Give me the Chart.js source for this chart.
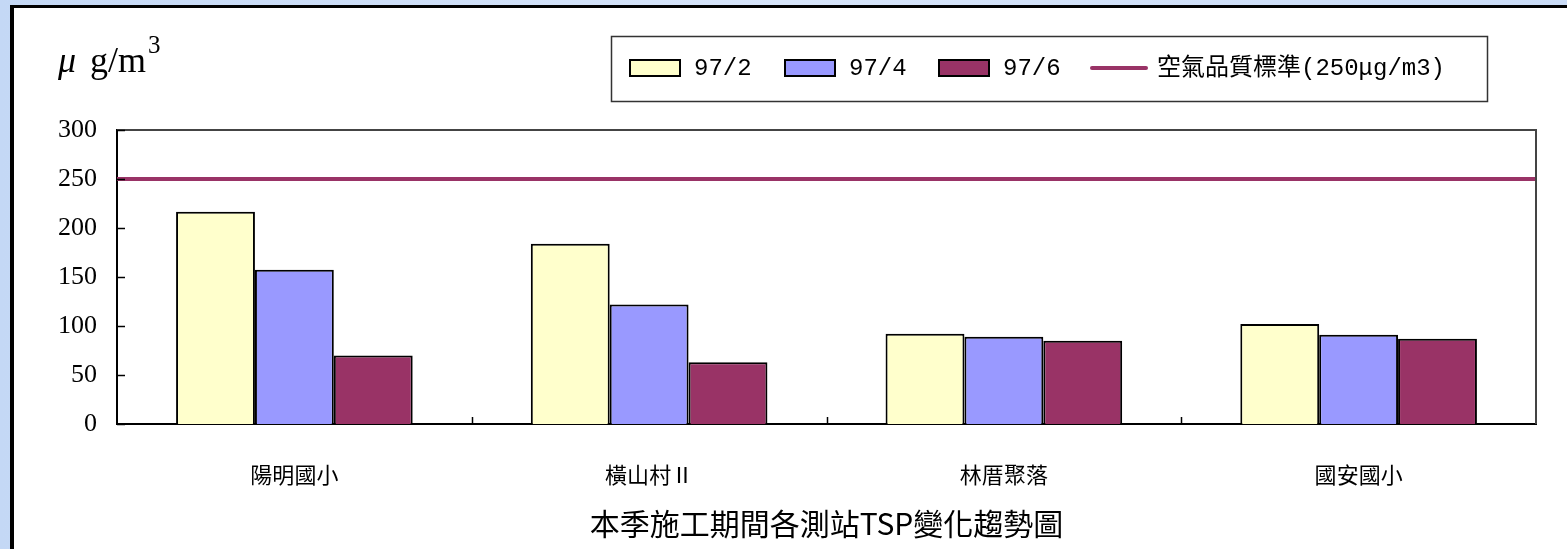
<!DOCTYPE html>
<html><head><meta charset="utf-8">
<script src="https://cdn.jsdelivr.net/npm/chart.js@4/dist/chart.umd.min.js"></script>
<style>
html,body{margin:0;padding:0;width:1567px;height:549px;overflow:hidden;}
body{background:linear-gradient(90deg,#c4d8f5 0%,#d6e4f9 50%,#c9dbf6 100%);position:relative;}
#frame{position:absolute;left:10px;top:5px;width:1600px;height:600px;background:#fff;border-left:4px solid #000;border-top:3px solid #000;box-sizing:border-box;}
#wrap{position:absolute;left:0;top:0;width:1567px;height:549px;}
</style></head><body>
<div id="frame"></div>
<div id="wrap"><canvas id="c" width="1567" height="549"></canvas></div>
<script>
// ---- data ----
const categories = ['陽明國小', '橫山村Ⅱ', '林厝聚落', '國安國小'];
const seriesNames = ['97/2', '97/4', '97/6'];
const tsp_97_2 = [216.5, 184, 92, 102];
const tsp_97_4 = [157.5, 122, 89, 91];
const tsp_97_6 = [70, 63, 85, 87];
const standardName = '空氣品質標準(250μg/m3)';
const standardValues = [250, 250, 250, 250];
const yMin = 0, yMax = 300, yStep = 50;
const chartTitle = '本季施工期間各測站TSP變化趨勢圖';
const unitMain = 'g/m', unitSup = '3', unitMu = 'μ';

const CJK = '"Noto Sans CJK TC", "Noto Sans CJK SC", sans-serif';
const SERIF = '"Liberation Serif", "DejaVu Serif", serif';
const LEGF = '"Liberation Mono", "Noto Sans CJK TC", monospace';

const decor = {
  id: 'decor',
  afterDraw(chart) {
    const ctx = chart.ctx, ca = chart.chartArea;
    const xs = chart.scales.x, ys = chart.scales.y;
    ctx.save();
    // plot border top/right
    ctx.strokeStyle = '#444'; ctx.lineWidth = 2;
    ctx.beginPath();
    ctx.moveTo(ca.left, ca.top); ctx.lineTo(ca.right, ca.top); ctx.lineTo(ca.right, ca.bottom);
    ctx.stroke();
    // inward y ticks
    ctx.strokeStyle = '#000'; ctx.lineWidth = 1.5;
    ys.ticks.forEach(t => {
      const y = Math.round(ys.getPixelForValue(t.value)) + 0.5;
      ctx.beginPath(); ctx.moveTo(ca.left, y); ctx.lineTo(ca.left + 8, y); ctx.stroke();
    });
    // inward x ticks at category boundaries
    for (let i = 0; i < categories.length - 1; i++) {
      const x = Math.round((xs.getPixelForTick(i) + xs.getPixelForTick(i + 1)) / 2) + 0.5;
      ctx.beginPath(); ctx.moveTo(x, ca.bottom); ctx.lineTo(x, ca.bottom - 7); ctx.stroke();
    }
    // unit label
    ctx.fillStyle = '#000'; ctx.textBaseline = 'alphabetic'; ctx.textAlign = 'left';
    ctx.font = 'italic 36px ' + SERIF;
    ctx.fillText(unitMu, 58, 72);
    ctx.font = '36px ' + SERIF;
    ctx.fillText(unitMain, 90, 72);
    ctx.font = '25px ' + SERIF;
    ctx.fillText(unitSup, 148, 53);
    // legend box
    ctx.strokeStyle = '#333'; ctx.lineWidth = 1.5;
    ctx.strokeRect(611.5, 36.5, 876, 65);
    const cy = 68;
    const swX = [630, 785, 939];
    ctx.font = '24px ' + LEGF; ctx.textBaseline = 'middle';
    let b = 0;
    chart.data.datasets.forEach((ds) => {
      if (ds.type === 'line') {
        ctx.strokeStyle = ds.borderColor; ctx.lineWidth = 4; ctx.lineCap = 'round';
        ctx.beginPath(); ctx.moveTo(1092, cy); ctx.lineTo(1146, cy); ctx.stroke();
        ctx.fillStyle = '#000';
        ctx.fillText(ds.label, 1157, cy + 1);
      } else {
        const x = swX[b++];
        ctx.fillStyle = ds.backgroundColor;
        ctx.fillRect(x, cy - 8, 50, 16);
        ctx.strokeStyle = '#000'; ctx.lineWidth = 2; ctx.lineCap = 'butt';
        ctx.strokeRect(x, cy - 8, 50, 16);
        ctx.fillStyle = '#000';
        ctx.fillText(ds.label, x + 64, cy + 1);
      }
    });
    ctx.restore();
  }
};

new Chart(document.getElementById('c'), {
  type: 'bar',
  data: {
    labels: categories,
    datasets: [
      { type: 'bar', indexAxis: 'x', label: seriesNames[0], data: tsp_97_2, backgroundColor: '#FFFFCC', borderColor: '#000', borderWidth: 2 },
      { type: 'bar', indexAxis: 'x', label: seriesNames[1], data: tsp_97_4, backgroundColor: '#9999FF', borderColor: '#000', borderWidth: 2 },
      { type: 'bar', indexAxis: 'x', label: seriesNames[2], data: tsp_97_6, backgroundColor: '#993366', borderColor: '#000', borderWidth: 2 },
      { type: 'line', indexAxis: 'x', label: standardName, data: standardValues, xAxisID: 'x2',
        borderColor: '#993366', backgroundColor: '#993366', borderWidth: 4, pointRadius: 0, tension: 0 }
    ]
  },
  options: {
    // chart-level indexAxis 'y' keeps the bar grouping to a single index axis
    // (each dataset sets indexAxis 'x' itself, so bars stay vertical)
    indexAxis: 'y',
    responsive: false, animation: false, devicePixelRatio: 1,
    datasets: { bar: { categoryPercentage: 0.667, barPercentage: 1.0 } },
    layout: { padding: { left: 0, right: 31, top: 130, bottom: 0 } },
    plugins: { legend: { display: false }, tooltip: { enabled: false } },
    scales: {
      x: {
        type: 'category', offset: true, position: 'bottom',
        grid: { display: false, drawTicks: false, offset: true },
        border: { display: true, color: '#000', width: 2 },
        ticks: { color: '#000', font: { family: CJK, size: 22 }, padding: 37, maxRotation: 0, autoSkip: false },
        title: { display: true, text: chartTitle, color: '#000', font: { family: CJK, size: 30 }, padding: { top: 0, bottom: 7 } },
        afterFit(s) { s.height = 125; }
      },
      x2: { type: 'category', labels: categories, offset: false, display: false },
      y: {
        type: 'linear', position: 'left', offset: false,
        min: yMin, max: yMax,
        grid: { display: false, drawTicks: false, offset: false },
        border: { display: true, color: '#000', width: 2 },
        ticks: { stepSize: yStep, color: '#000', font: { family: SERIF, size: 26 }, padding: 20 },
        afterFit(s) { s.width = 117; }
      }
    }
  },
  plugins: [decor]
});
</script>
</body></html>
